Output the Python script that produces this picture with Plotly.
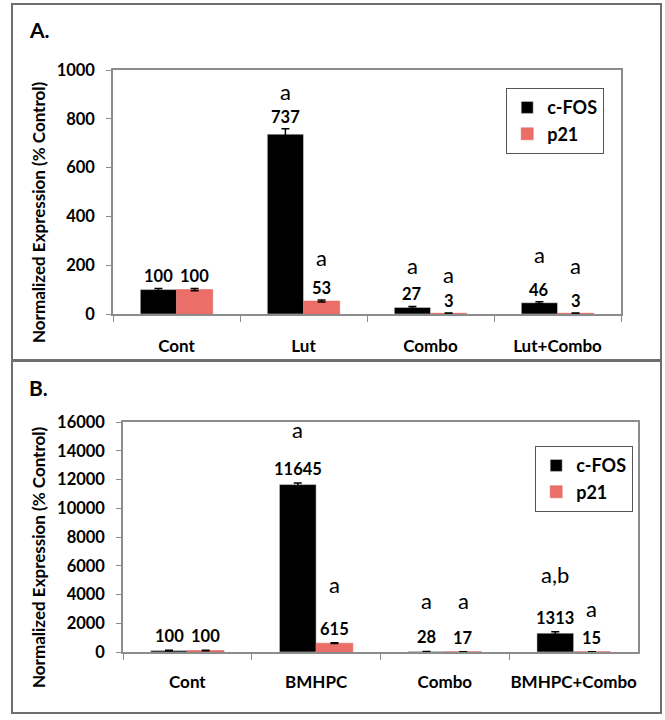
import plotly.graph_objects as go

# ---------------- data ----------------
cats_a = ["Cont", "Lut", "Combo", "Lut+Combo"]
cfos_a = [100, 737, 27, 46]
p21_a = [100, 53, 3, 3]
cfos_a_err = [5, 22, 4, 4]
p21_a_err = [5, 4, 1, 1]
sig_cfos_a = ["", "a", "a", "a"]
sig_p21_a = ["", "a", "a", "a"]

cats_b = ["Cont", "BMHPC", "Combo", "BMHPC+Combo"]
cfos_b = [100, 11645, 28, 1313]
p21_b = [100, 615, 17, 15]
cfos_b_err = [20, 120, 10, 90]
p21_b_err = [15, 30, 3, 3]
sig_cfos_b = ["", "a", "a", "a,b"]
sig_p21_b = ["", "a", "a", "a"]

yticks_a = [0, 200, 400, 600, 800, 1000]
yticks_b = [0, 2000, 4000, 6000, 8000, 10000, 12000, 14000, 16000]

# ---------------- layout helpers ----------------
W, H = 665, 720
def px(x):
    return x / W
def py(y):
    return 1 - y / H

FONT = "Lato"
BLACK = "#000000"
SALMON = "#ec6e69"
AXC = "#8c8c8c"
OFF = 0.1425  # half of a bar width in category units (bargap 0.43)

# pixel gaps of significance letters above number labels (layout only)
gap_cfos_a = [0, 25, 29, 35]
gap_p21_a = [0, 31, 27, 36]
gap_cfos_b = [0, 39, 37, 43]
gap_p21_b = [0, 44, 37, 29]

fig = go.Figure()

def add_panel(cats, cfos, p21, ecf, ep, xa, ya, leg):
    fig.add_trace(go.Bar(x=cats, y=cfos, name="c-FOS", marker_color=BLACK,
                         error_y=dict(type="data", array=ecf, color="black", thickness=1.5, width=4),
                         xaxis=xa, yaxis=ya, legend=leg))
    fig.add_trace(go.Bar(x=cats, y=p21, name="p21", marker_color=SALMON,
                         marker_line=dict(color="#d85c57", width=0.5),
                         error_y=dict(type="data", array=ep, color="black", thickness=1.5, width=4),
                         xaxis=xa, yaxis=ya, legend=leg))

add_panel(cats_a, cfos_a, p21_a, cfos_a_err, p21_a_err, "x", "y", "legend")
add_panel(cats_b, cfos_b, p21_b, cfos_b_err, p21_b_err, "x2", "y2", "legend2")

annotations = []

def label_panel(xref, yref, cfos, p21, ecf, ep, sc, sp, gc, gp, nshift):
    for i in range(len(cfos)):
        for off, v, e, s, g in ((-OFF, cfos[i], ecf[i], sc[i], gc[i]),
                                (OFF, p21[i], ep[i], sp[i], gp[i])):
            annotations.append(dict(x=i + off, y=v + e, xref=xref, yref=yref, text=str(v),
                                    showarrow=False, yanchor="middle", yshift=nshift,
                                    font=dict(family=FONT, size=16.5, color="black", weight="bold")))
            if s:
                annotations.append(dict(x=i + off, y=v + e, xref=xref, yref=yref, text=s,
                                        showarrow=False, yanchor="middle", yshift=nshift + g,
                                        font=dict(family=FONT, size=22, color="black")))

label_panel("x", "y", cfos_a, p21_a, cfos_a_err, p21_a_err, sig_cfos_a, sig_p21_a, gap_cfos_a, gap_p21_a, 12)
label_panel("x2", "y2", cfos_b, p21_b, cfos_b_err, p21_b_err, sig_cfos_b, sig_p21_b, gap_cfos_b, gap_p21_b, 14)

ytitle = "Normalized Expression (% Control)"
for yc in (212, 557):
    annotations.append(dict(x=px(38), y=py(yc), xref="paper", yref="paper", text=ytitle,
                            textangle=-90, showarrow=False, xanchor="center", yanchor="middle",
                            font=dict(family=FONT, size=17, color="black", weight="bold")))
for t, yc in (("A.", 30), ("B.", 387)):
    annotations.append(dict(x=px(27), y=py(yc), xref="paper", yref="paper", text=t,
                            showarrow=False, xanchor="left", yanchor="middle",
                            font=dict(family=FONT, size=21, color="black", weight="bold")))

shapes = [
    dict(type="rect", xref="paper", yref="paper", x0=px(12), x1=px(661), y0=py(360), y1=py(4),
         line=dict(color="#6e6e6e", width=2)),
    dict(type="rect", xref="paper", yref="paper", x0=px(12), x1=px(661), y0=py(713), y1=py(361),
         line=dict(color="#6e6e6e", width=2)),
]

tickfont = dict(family=FONT, size=16.5, color="black", weight="bold")
catfont = dict(family=FONT, size=17, color="black", weight="bold")
common_x = dict(type="category", showline=True, linecolor=AXC, linewidth=1.5, mirror=True,
                ticks="outside", tickson="boundaries", ticklen=6, tickcolor=AXC, tickangle=0,
                tickfont=catfont, showgrid=False, zeroline=False, fixedrange=True)
common_y = dict(showline=True, linecolor=AXC, linewidth=1.5, mirror=True,
                ticks="outside", ticklen=5, tickcolor=AXC, tickfont=tickfont,
                showgrid=False, zeroline=False, ticklabelstandoff=8, tickformat="d")

legend_style = dict(bgcolor="white", bordercolor="#555555", borderwidth=1.2,
                    font=dict(family=FONT, size=18, color="black", weight="bold"),
                    xanchor="left", yanchor="top", itemwidth=30, tracegroupgap=0)

fig.update_layout(
    width=W, height=H, margin=dict(l=0, r=0, t=0, b=0, autoexpand=False),
    paper_bgcolor="white", plot_bgcolor="white",
    barmode="group", bargap=0.43, bargroupgap=0,
    xaxis=dict(domain=[px(113), px(621)], anchor="y", ticklabelstandoff=16, **common_x),
    yaxis=dict(domain=[py(314), py(70)], anchor="x", range=[0, 1000], tickvals=yticks_a, **common_y),
    xaxis2=dict(domain=[px(123), px(638)], anchor="y2", ticklabelstandoff=14, **common_x),
    yaxis2=dict(domain=[py(652), py(422)], anchor="x2", range=[0, 16000], tickvals=yticks_b, **common_y),
    legend=dict(x=px(506), y=py(88), **legend_style),
    legend2=dict(x=px(535), y=py(446), **legend_style),
    annotations=annotations,
    shapes=shapes,
    showlegend=True,
)

fig.write_html("out.html")
